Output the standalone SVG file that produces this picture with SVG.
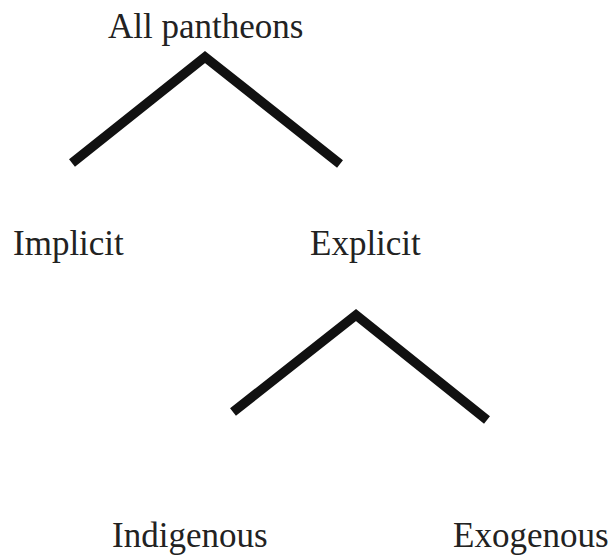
<svg xmlns="http://www.w3.org/2000/svg" width="608" height="558" viewBox="0 0 608 558">
<style>
.lbl{font-family:"Liberation Serif","Times New Roman",serif;font-size:35px;fill:#222}
.br{fill:none;stroke:#111;stroke-width:9.5;stroke-linejoin:miter;stroke-linecap:butt}
</style>
<rect width="608" height="558" fill="#fff"/>
<g id="connectors">
<polyline class="br" points="72,163 205,57 340,164"/>
<polyline class="br" points="233,412 356,315 487,420"/>
</g>
<g id="all"><text class="lbl" x="108" y="38">All pantheons</text></g>
<g id="implicit"><text class="lbl" x="13" y="255">Implicit</text></g>
<g id="explicit"><text class="lbl" x="310" y="255">Explicit</text></g>
<g id="indigenous"><text class="lbl" x="112" y="547">Indigenous</text></g>
<g id="exogenous"><text class="lbl" x="453" y="547">Exogenous</text></g>
</svg>
